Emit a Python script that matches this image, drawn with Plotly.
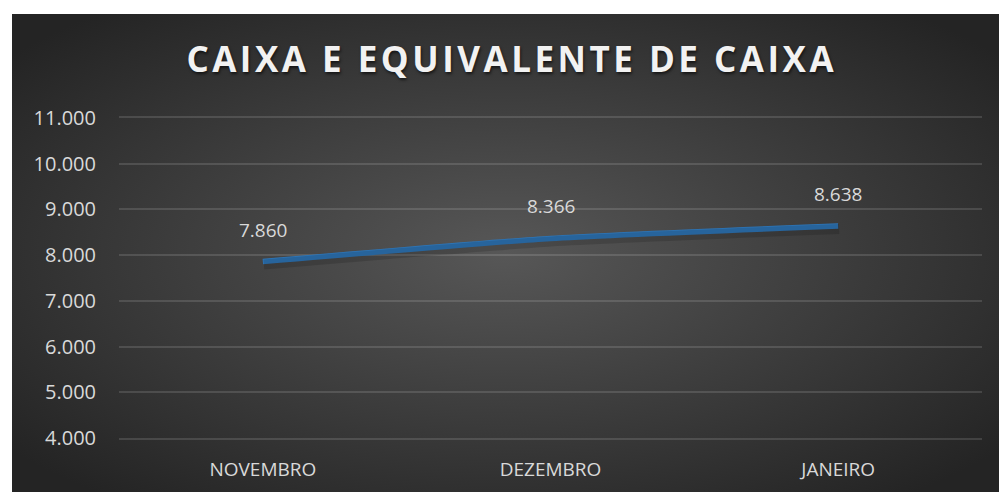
import base64
import plotly.graph_objects as go

# data
months = ["NOVEMBRO", "DEZEMBRO", "JANEIRO"]
caixa = [7860, 8366, 8638]
y_ticks = [4000, 5000, 6000, 7000, 8000, 9000, 10000, 11000]
title = "CAIXA E EQUIVALENTE DE CAIXA"

W, H = 999, 492
L, R, T, B = 119, 17, 118, 54
pw, ph = W - L - R, H - T - B
grid = "rgba(255,255,255,0.13)"

# radial gradient background (Excel dark style) as an svg image
svg = ("<svg xmlns='http://www.w3.org/2000/svg' width='987' height='478' preserveAspectRatio='none'>"
       "<defs><radialGradient id='g' cx='50%' cy='50%' r='65%'>"
       "<stop offset='0' stop-color='#575757'/><stop offset='1' stop-color='#242424'/>"
       "</radialGradient></defs><rect width='100%' height='100%' fill='url(#g)'/></svg>")
bg = "data:image/svg+xml;base64," + base64.b64encode(svg.encode()).decode()

fig = go.Figure()

# soft shadow under the line, drawn on slightly shifted axes
fig.add_trace(go.Scatter(
    x=months, y=caixa, mode="lines", xaxis="x2", yaxis="y2",
    line=dict(color="rgba(0,0,0,0.14)", width=10, shape="spline", smoothing=0.5),
    hoverinfo="skip", showlegend=False))

fig.add_trace(go.Scatter(
    x=months, y=caixa, mode="lines",
    line=dict(color="#2E75B6", width=5.5, shape="spline", smoothing=0.5),
    showlegend=False))

for m, v in zip(months, caixa):
    fig.add_annotation(x=m, y=v, text=f"{v:,}".replace(",", "."),
                       showarrow=False, yanchor="middle", yshift=32,
                       font=dict(family="Open Sans", size=19, color="#d9d9d9"))

dy = 3 / ph * 7000
dx = 1 / pw * 3

# letter spacing via hair spaces
spaced = "\u200a".join(title)

fig.update_layout(
    width=W, height=H,
    margin=dict(l=L, r=R, t=T, b=B),
    paper_bgcolor="white", plot_bgcolor="rgba(0,0,0,0)",
    separators=",.",
    title=dict(text=spaced,
               x=(510 - L) / pw, xref="paper", xanchor="center",
               y=1 - 60 / H, yanchor="middle",
               font=dict(family="Open Sans", size=35, weight=700, color="#f2f2f2",
                         shadow="1px 2px 3px rgba(0,0,0,0.6)")),
    xaxis=dict(type="category", range=[-0.5, 2.5], showgrid=False,
               showline=True, mirror=True, linecolor=grid, linewidth=1.5,
               zeroline=False, ticks="", automargin=False,
               ticklabelstandoff=13,
               tickfont=dict(family="Open Sans", size=19, color="#d9d9d9")),
    yaxis=dict(range=[4000, 11000], tickvals=y_ticks, tickformat=",d",
               showgrid=True, gridcolor=grid, gridwidth=1.5,
               zeroline=False, showline=False, ticks="", automargin=False,
               ticklabelstandoff=22,
               tickfont=dict(family="Open Sans", size=20, color="#d9d9d9")),
    xaxis2=dict(type="category", range=[-0.5 - dx, 2.5 - dx], overlaying="x",
                visible=False),
    yaxis2=dict(range=[4000 + dy, 11000 + dy], overlaying="y", visible=False),
    images=[dict(source=bg, xref="paper", yref="paper",
                 x=(12 - L) / pw, y=(H - B - 14) / ph,
                 sizex=(W - 12) / pw, sizey=(H - 14) / ph,
                 xanchor="left", yanchor="top", sizing="stretch",
                 layer="below")],
)

fig.write_html("out.html", config={"displayModeBar": False},
               post_script="document.body.style.margin='0';")
